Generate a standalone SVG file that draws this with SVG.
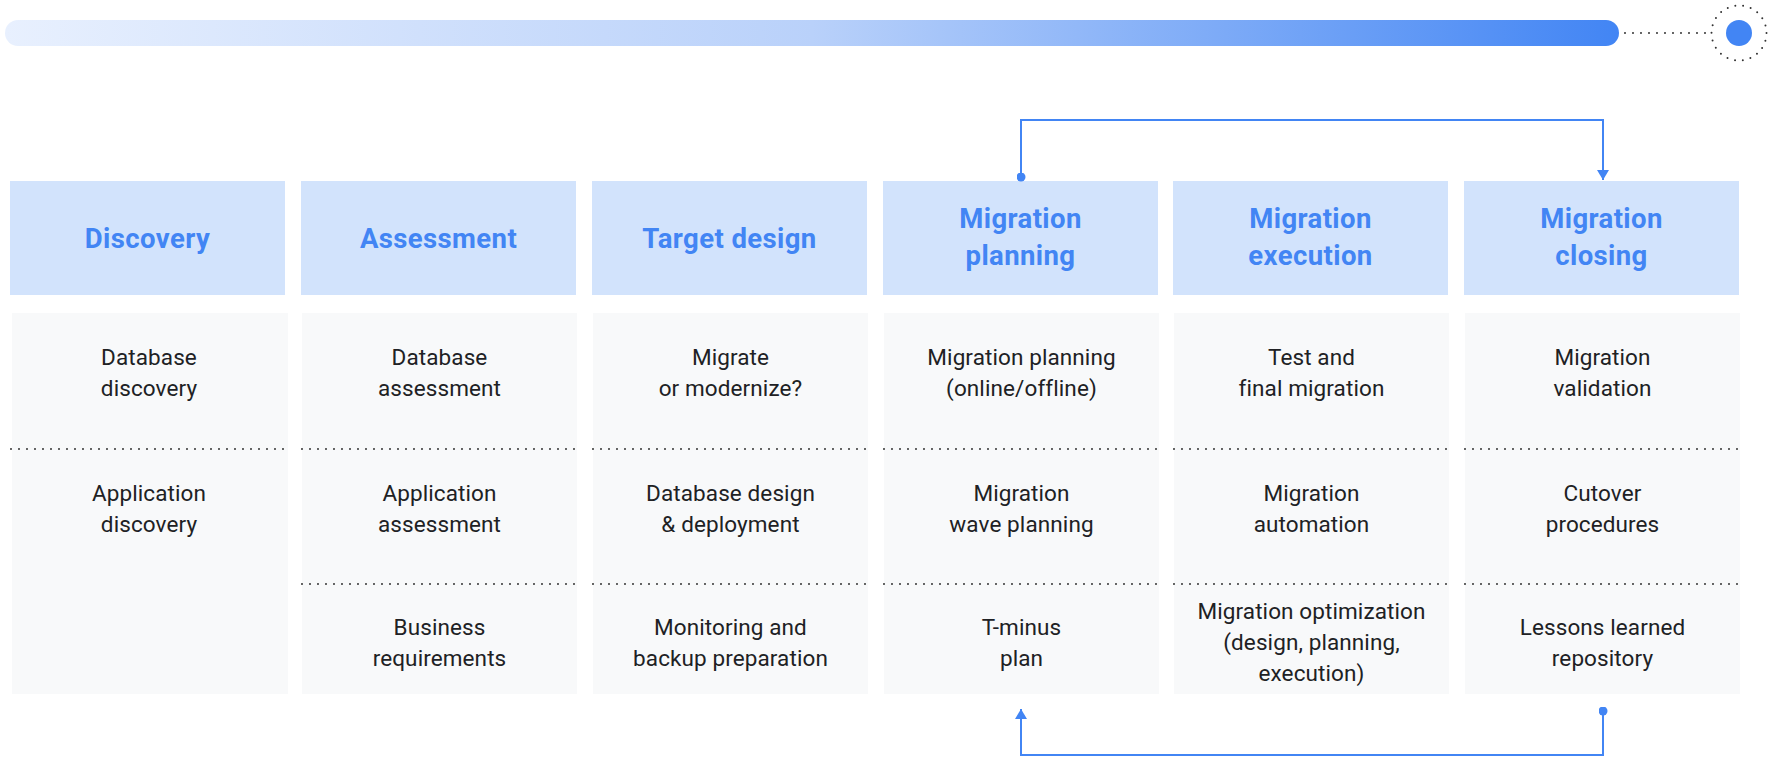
<svg xmlns="http://www.w3.org/2000/svg" width="1776" height="757" viewBox="0 0 1776 757">
<defs>
<linearGradient id="barGrad" x1="0" y1="0" x2="1" y2="0">
<stop offset="0" stop-color="#E8F0FE"/>
<stop offset="0.5" stop-color="#B9D1FA"/>
<stop offset="1" stop-color="#4285F4"/>
</linearGradient>
<marker id="arrow" viewBox="0 0 10 12" refX="10" refY="6" markerWidth="10" markerHeight="12" markerUnits="userSpaceOnUse" orient="auto">
<path d="M0,0 L10,6 L0,12 Z" fill="#4285F4"/>
</marker>
<marker id="dot" viewBox="0 0 10 10" refX="5" refY="5" markerWidth="9" markerHeight="9" markerUnits="userSpaceOnUse" orient="auto">
<circle cx="5" cy="5" r="5" fill="#4285F4"/>
</marker>
</defs>
<style>
.hdr{fill:#D2E3FC}
.body{fill:#F8F9FA}
.ht{font-family:Roboto,"Noto Sans",sans-serif;font-weight:700;font-size:27.5px;letter-spacing:0.4px;fill:#4285F4;text-anchor:middle}
.bt{font-family:Roboto,"Noto Sans",sans-serif;font-size:22.5px;letter-spacing:0.1px;fill:#202124;text-anchor:middle}
.sep{stroke:#333;stroke-width:2;stroke-dasharray:0 8;stroke-linecap:round;fill:none}
.conn{stroke:#4285F4;stroke-width:2;fill:none}
</style>
<rect width="1776" height="757" fill="#ffffff"/>

<g id="timeline">
<rect x="5" y="20" width="1614" height="26" rx="13" fill="url(#barGrad)"/>
<line x1="1625" y1="33" x2="1708" y2="33" class="sep"/>
<circle cx="1739" cy="33" r="27.5" fill="none" stroke="#333" stroke-width="2" stroke-dasharray="0 7.854" stroke-linecap="round"/>
<circle cx="1739" cy="33" r="13" fill="#4285F4"/>
</g>

<g id="col-discovery">
<rect class="hdr" x="10" y="181" width="275" height="114"/>
<text class="ht" x="147.5" y="248">Discovery</text>
<rect class="body" x="12" y="313" width="276" height="381"/>
<line class="sep" x1="11" y1="449" x2="286" y2="449"/>
<text class="bt" x="149" y="365">Database</text>
<text class="bt" x="149" y="396">discovery</text>
<text class="bt" x="149" y="501">Application</text>
<text class="bt" x="149" y="532">discovery</text>
</g>

<g id="col-assessment">
<rect class="hdr" x="301" y="181" width="275" height="114"/>
<text class="ht" x="438.5" y="248">Assessment</text>
<rect class="body" x="302" y="313" width="275" height="381"/>
<line class="sep" x1="302" y1="449" x2="577" y2="449"/>
<line class="sep" x1="302" y1="584" x2="577" y2="584"/>
<text class="bt" x="439.5" y="365">Database</text>
<text class="bt" x="439.5" y="396">assessment</text>
<text class="bt" x="439.5" y="501">Application</text>
<text class="bt" x="439.5" y="532">assessment</text>
<text class="bt" x="439.5" y="635">Business</text>
<text class="bt" x="439.5" y="666">requirements</text>
</g>

<g id="col-target">
<rect class="hdr" x="592" y="181" width="275" height="114"/>
<text class="ht" x="729.5" y="248">Target design</text>
<rect class="body" x="593" y="313" width="275" height="381"/>
<line class="sep" x1="593" y1="449" x2="868" y2="449"/>
<line class="sep" x1="593" y1="584" x2="868" y2="584"/>
<text class="bt" x="730.5" y="365">Migrate</text>
<text class="bt" x="730.5" y="396">or modernize?</text>
<text class="bt" x="730.5" y="501">Database design</text>
<text class="bt" x="730.5" y="532">&amp; deployment</text>
<text class="bt" x="730.5" y="635">Monitoring and</text>
<text class="bt" x="730.5" y="666">backup preparation</text>
</g>

<g id="col-planning">
<rect class="hdr" x="883" y="181" width="275" height="114"/>
<text class="ht" x="1020.5" y="228">Migration</text>
<text class="ht" x="1020.5" y="265">planning</text>
<rect class="body" x="884" y="313" width="275" height="381"/>
<line class="sep" x1="884" y1="449" x2="1159" y2="449"/>
<line class="sep" x1="884" y1="584" x2="1159" y2="584"/>
<text class="bt" x="1021.5" y="365">Migration planning</text>
<text class="bt" x="1021.5" y="396">(online/offline)</text>
<text class="bt" x="1021.5" y="501">Migration</text>
<text class="bt" x="1021.5" y="532">wave planning</text>
<text class="bt" x="1021.5" y="635">T-minus</text>
<text class="bt" x="1021.5" y="666">plan</text>
</g>

<g id="col-execution">
<rect class="hdr" x="1173" y="181" width="275" height="114"/>
<text class="ht" x="1310.5" y="228">Migration</text>
<text class="ht" x="1310.5" y="265">execution</text>
<rect class="body" x="1174" y="313" width="275" height="381"/>
<line class="sep" x1="1174" y1="449" x2="1449" y2="449"/>
<line class="sep" x1="1174" y1="584" x2="1449" y2="584"/>
<text class="bt" x="1311.5" y="365">Test and</text>
<text class="bt" x="1311.5" y="396">final migration</text>
<text class="bt" x="1311.5" y="501">Migration</text>
<text class="bt" x="1311.5" y="532">automation</text>
<text class="bt" x="1311.5" y="619">Migration optimization</text>
<text class="bt" x="1311.5" y="650">(design, planning,</text>
<text class="bt" x="1311.5" y="681">execution)</text>
</g>

<g id="col-closing">
<rect class="hdr" x="1464" y="181" width="275" height="114"/>
<text class="ht" x="1601.5" y="228">Migration</text>
<text class="ht" x="1601.5" y="265">closing</text>
<rect class="body" x="1465" y="313" width="275" height="381"/>
<line class="sep" x1="1465" y1="449" x2="1740" y2="449"/>
<line class="sep" x1="1465" y1="584" x2="1740" y2="584"/>
<text class="bt" x="1602.5" y="365">Migration</text>
<text class="bt" x="1602.5" y="396">validation</text>
<text class="bt" x="1602.5" y="501">Cutover</text>
<text class="bt" x="1602.5" y="532">procedures</text>
<text class="bt" x="1602.5" y="635">Lessons learned</text>
<text class="bt" x="1602.5" y="666">repository</text>
</g>

<g id="connectors">
<path class="conn" d="M1021,177 V120 H1603 V180" marker-start="url(#dot)" marker-end="url(#arrow)"/>
<path class="conn" d="M1603,711 V755 H1021 V709" marker-start="url(#dot)" marker-end="url(#arrow)"/>
</g>
</svg>
